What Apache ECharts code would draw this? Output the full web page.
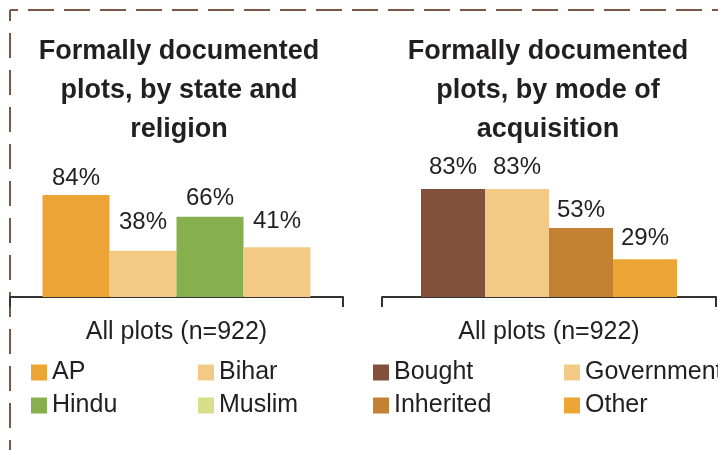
<!DOCTYPE html>
<html>
<head>
<meta charset="utf-8">
<script src="https://cdn.jsdelivr.net/npm/echarts@6/dist/echarts.min.js"></script>
<style>
html,body{margin:0;padding:0;background:#fff;}
#chart{width:718px;height:450px;}
</style>
</head>
<body>
<div id="chart"></div>
<script>
// ---- data ----
const categoryLabels = ['All plots (n=922)'];
const leftTitle = 'Formally documented\nplots, by state and\nreligion';
const rightTitle = 'Formally documented\nplots, by mode of\nacquisition';
const leftNames = ['AP', 'Bihar', 'Hindu', 'Muslim'];
const leftValues = [84, 38, 66, 41];
const rightNames = ['Bought', 'Government', 'Inherited', 'Other'];
const rightValues = [83, 83, 53, 29];

// ---- styles ----
const leftColors = ['#eca535', '#f2ca86', '#86b04d', '#d9de8a'];
const leftBarFill = ['#eca535', '#f2ca86', '#86b04d', '#f2ca86'];
const rightColors = ['#82513c', '#f2ca86', '#c48033', '#eca535'];
const leftLabelDist = [5, 16, 6, 14];
const rightLabelDist = [10, 10, 6, 9];
const TXT = '#231f20';
const FONT = 'Liberation Sans, Arial, sans-serif';

const chart = echarts.init(document.getElementById('chart'), null, {renderer: 'canvas'});

function makeSeries(names, values, colors, fills, dists, axisIdx, bw) {
  return names.map((n, i) => ({
    name: n,
    type: 'bar',
    xAxisIndex: axisIdx,
    yAxisIndex: axisIdx,
    barWidth: bw,
    barGap: '0%',
    itemStyle: {color: colors[i]},
    data: [{value: values[i], itemStyle: {color: fills[i]}}],
    label: {
      show: true, position: 'top', distance: dists[i],
      formatter: '{c}%', fontSize: 24, color: TXT, fontFamily: FONT
    },
    emphasis: {disabled: true},
    animation: false
  }));
}

function axisX(gi) {
  return {
    type: 'category', gridIndex: gi, data: categoryLabels,
    axisLine: {show: true, lineStyle: {color: '#333', width: 2}},
    axisTick: {show: true, length: 10, lineStyle: {color: '#333', width: 2}},
    axisLabel: {fontSize: 25, color: TXT, fontFamily: FONT, margin: 23}
  };
}
function axisY(gi) {
  return {type: 'value', gridIndex: gi, min: 0, max: 100, show: false, splitLine: {show: false}};
}

function legend(data, left, top) {
  return {
    data: data, orient: 'vertical', left: left, top: top,
    itemWidth: 16, itemHeight: 16, itemGap: 8, icon: 'rect',
    selectedMode: false, padding: 0,
    textStyle: {fontSize: 25, color: TXT, fontFamily: FONT}
  };
}

const option = {
  animation: false,
  textStyle: {fontFamily: FONT},
  grid: [
    {left: 10, right: 375, top: 175.5, bottom: 153},
    {left: 382, right: 2, top: 167, bottom: 153}
  ],
  xAxis: [axisX(0), axisX(1)],
  yAxis: [axisY(0), axisY(1)],
  legend: [
    legend([leftNames[0], leftNames[2]], 31, 360),
    legend([leftNames[1], leftNames[3]], 198, 360),
    legend([rightNames[0], rightNames[2]], 373, 360),
    legend([rightNames[1], rightNames[3]], 564, 360)
  ],
  series: [].concat(
    makeSeries(leftNames, leftValues, leftColors, leftBarFill, leftLabelDist, 0, 67),
    makeSeries(rightNames, rightValues, rightColors, rightColors, rightLabelDist, 1, 64)
  ),
  graphic: [
    {type: 'line', shape: {x1: 10, y1: 10, x2: 718, y2: 10},
     style: {stroke: '#7b5746', lineWidth: 2, lineDash: [26, 10], lineDashOffset: 18}, silent: true},
    {type: 'line', shape: {x1: 10, y1: 10, x2: 10, y2: 450},
     style: {stroke: '#7b5746', lineWidth: 2, lineDash: [25, 12], lineDashOffset: 14}, silent: true},
    {type: 'text', x: 179, y: 32, silent: true,
     style: {text: leftTitle, align: 'center', verticalAlign: 'top', fontSize: 27, fontWeight: 'bold',
             lineHeight: 39, fill: TXT, fontFamily: FONT}},
    {type: 'text', x: 548, y: 32, silent: true,
     style: {text: rightTitle, align: 'center', verticalAlign: 'top', fontSize: 27, fontWeight: 'bold',
             lineHeight: 39, fill: TXT, fontFamily: FONT}}
  ]
};
chart.setOption(option);
</script>
</body>
</html>
